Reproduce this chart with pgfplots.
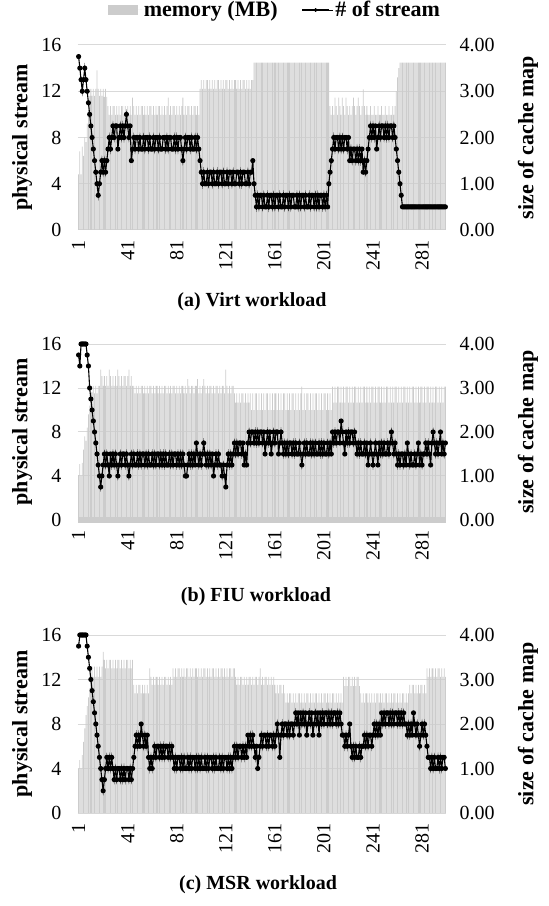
\documentclass[border=0pt]{standalone}
\usepackage{fontspec}
\setmainfont{Liberation Serif}
\usepackage{pgfplots}
\usepackage{pgfplotstable}
\pgfplotsset{compat=1.18}
\definecolor{barfill}{RGB}{204,204,204}
\definecolor{gridgray}{RGB}{217,217,217}

% columns: m = memory (MB, right axis), s = # of stream (left axis); row k is sample k+1
\pgfplotstableread[row sep=\\]{m s\\
1.20 15\\1.70 14\\1.20 13\\1.80 12\\1.60 13\\2.00 14\\1.90 13\\2.30 12\\2.60 11\\2.90 10\\
3.05 9\\2.90 8\\3.05 7\\2.90 6\\3.05 5\\3.45 4\\3.05 3\\2.90 4\\3.05 5\\2.90 6\\
3.05 5\\2.88 6\\3.05 5\\2.88 6\\2.68 7\\2.49 8\\2.68 7\\2.49 8\\2.68 9\\2.68 8\\
2.49 9\\2.68 9\\2.49 7\\2.68 8\\2.49 9\\2.68 8\\2.68 9\\2.49 8\\2.68 9\\2.49 10\\
2.68 9\\2.49 8\\2.68 9\\2.49 6\\2.86 7\\2.68 8\\2.49 7\\2.68 8\\2.49 8\\2.68 7\\
2.49 8\\2.68 7\\2.68 7\\2.49 8\\2.68 7\\2.49 8\\2.68 8\\2.49 7\\2.68 8\\2.68 7\\
2.49 7\\2.68 8\\2.49 7\\2.68 8\\2.49 8\\2.68 7\\2.68 8\\2.49 7\\2.68 7\\2.49 8\\
2.68 8\\2.49 7\\2.68 8\\2.86 7\\2.49 8\\2.68 8\\2.49 7\\2.68 7\\2.68 8\\2.49 7\\
2.68 8\\2.49 7\\2.68 8\\2.49 8\\2.68 7\\2.86 6\\2.49 7\\2.68 8\\2.49 7\\2.68 8\\
2.68 8\\2.49 7\\2.68 8\\2.49 7\\2.68 7\\2.68 8\\2.49 7\\2.68 8\\2.49 7\\3.05 6\\
3.24 5\\3.05 4\\3.24 5\\3.05 4\\3.24 4\\3.24 5\\3.05 4\\3.24 5\\3.05 5\\3.24 4\\
3.05 5\\3.24 4\\3.05 4\\3.24 5\\3.24 4\\3.05 5\\3.24 5\\3.05 4\\3.24 5\\3.05 4\\
3.24 4\\3.24 5\\3.05 4\\3.24 5\\3.05 5\\3.24 4\\3.05 5\\3.24 4\\3.24 4\\3.05 5\\
3.24 5\\3.05 4\\3.24 5\\3.05 4\\3.24 5\\3.24 5\\3.05 4\\3.24 4\\3.05 5\\3.24 4\\
3.05 5\\3.24 5\\3.24 6\\3.62 4\\3.62 3\\3.62 2\\3.62 3\\3.62 2\\3.62 3\\3.62 3\\
3.62 2\\3.62 3\\3.62 2\\3.62 2\\3.62 3\\3.62 2\\3.62 3\\3.62 3\\3.62 2\\3.62 3\\
3.62 2\\3.62 3\\3.62 3\\3.62 2\\3.62 3\\3.62 2\\3.62 2\\3.62 3\\3.62 2\\3.62 3\\
3.62 3\\3.62 2\\3.62 3\\3.62 2\\3.62 3\\3.62 3\\3.62 2\\3.62 2\\3.62 3\\3.62 2\\
3.62 3\\3.62 2\\3.62 3\\3.62 3\\3.62 2\\3.62 3\\3.62 2\\3.62 2\\3.62 3\\3.62 2\\
3.62 3\\3.62 3\\3.62 2\\3.62 3\\3.62 2\\3.62 3\\3.62 2\\3.62 3\\3.62 3\\3.62 2\\
3.62 3\\3.62 2\\3.62 3\\3.62 2\\3.62 4\\2.68 5\\2.49 6\\2.68 7\\2.49 8\\2.86 7\\
2.68 8\\2.49 8\\2.86 7\\2.68 8\\2.49 7\\2.86 8\\2.68 7\\2.49 8\\2.86 8\\2.68 7\\
2.49 8\\2.68 6\\2.49 7\\2.68 6\\2.86 7\\2.68 7\\2.49 6\\2.68 7\\2.86 6\\2.68 7\\
2.49 6\\2.68 7\\3.04 5\\2.68 6\\2.49 5\\2.68 6\\2.49 7\\2.49 8\\2.68 9\\2.49 8\\
2.49 9\\2.68 8\\2.49 9\\2.49 7\\2.68 8\\2.49 9\\2.49 8\\2.68 9\\2.49 9\\2.49 8\\
2.68 9\\2.49 8\\2.49 9\\2.68 8\\2.49 9\\2.49 9\\2.68 8\\2.49 9\\2.68 8\\3.00 7\\
3.30 6\\3.50 5\\3.62 4\\3.62 3\\3.62 2\\3.62 2\\3.62 2\\3.62 2\\3.62 2\\3.62 2\\
3.62 2\\3.62 2\\3.62 2\\3.62 2\\3.62 2\\3.62 2\\3.62 2\\3.62 2\\3.62 2\\3.62 2\\
3.62 2\\3.62 2\\3.62 2\\3.62 2\\3.62 2\\3.62 2\\3.62 2\\3.62 2\\3.62 2\\3.62 2\\
3.62 2\\3.62 2\\3.62 2\\3.62 2\\3.62 2\\3.62 2\\3.62 2\\3.62 2\\3.62 2\\3.62 2\\
}\virt

\pgfplotstableread[row sep=\\]{m s\\
1.02 15\\1.27 14\\1.00 16\\1.30 16\\1.60 16\\1.90 16\\1.80 16\\2.10 15\\2.40 14\\2.60 12\\
2.90 11\\2.90 10\\3.05 9\\2.88 8\\3.05 7\\2.88 6\\3.05 5\\3.05 4\\3.42 3\\3.27 4\\
3.05 5\\3.27 6\\3.05 5\\3.27 6\\3.05 5\\3.42 4\\3.27 6\\3.05 5\\3.27 6\\3.05 5\\
3.27 6\\3.05 5\\3.42 4\\3.27 5\\3.05 6\\3.27 5\\3.05 6\\3.27 6\\3.27 5\\3.05 6\\
3.27 5\\3.42 4\\3.05 5\\3.27 6\\3.05 5\\3.05 6\\2.88 5\\3.05 5\\2.88 6\\3.05 5\\
2.88 6\\3.05 5\\3.05 6\\2.88 6\\3.05 5\\2.88 6\\3.05 5\\2.88 6\\3.05 5\\3.05 5\\
2.88 6\\3.05 5\\2.88 6\\3.05 5\\3.05 6\\2.88 6\\3.05 5\\2.88 6\\3.05 5\\2.88 6\\
3.05 5\\3.05 6\\2.88 5\\3.05 5\\2.88 6\\3.05 5\\2.88 6\\3.05 5\\3.05 6\\2.88 6\\
3.05 5\\2.88 6\\3.05 5\\2.88 6\\3.05 5\\3.05 6\\2.88 5\\3.05 4\\2.88 4\\3.20 5\\
3.05 6\\2.88 5\\3.05 6\\3.05 5\\2.88 6\\3.05 5\\3.05 7\\3.20 6\\2.88 5\\3.05 6\\
2.88 5\\3.05 6\\3.20 7\\3.05 6\\2.88 5\\3.05 6\\2.88 5\\3.05 6\\3.05 5\\2.88 6\\
3.05 4\\2.88 5\\3.05 6\\3.05 5\\2.88 6\\3.05 5\\2.88 5\\3.05 4\\3.05 5\\2.88 4\\
3.42 3\\3.05 5\\2.88 6\\3.05 5\\2.88 6\\3.05 5\\3.05 6\\2.88 7\\2.67 6\\2.88 7\\
2.67 6\\2.88 7\\2.67 7\\2.88 6\\2.88 7\\2.67 5\\2.88 6\\2.67 5\\2.88 7\\2.67 8\\
2.88 7\\2.50 8\\2.88 8\\2.50 7\\2.88 8\\2.88 7\\2.50 8\\2.88 7\\2.50 8\\2.88 8\\
2.50 7\\2.88 8\\2.50 6\\2.88 7\\2.88 8\\2.50 7\\2.88 8\\2.50 6\\2.88 7\\2.50 8\\
2.88 7\\2.88 8\\2.50 8\\2.88 6\\2.50 7\\2.88 8\\2.50 7\\2.88 6\\2.88 7\\2.50 6\\
2.88 7\\2.50 6\\2.88 7\\2.50 7\\2.88 6\\2.88 7\\2.50 6\\2.88 7\\2.50 6\\2.88 6\\
2.50 7\\2.88 6\\3.03 5\\2.50 6\\2.88 7\\2.50 6\\2.88 7\\2.88 6\\2.50 6\\2.88 7\\
2.50 6\\2.88 7\\2.50 6\\2.88 7\\2.88 6\\2.50 6\\2.88 7\\2.50 6\\2.88 7\\2.50 6\\
2.88 7\\2.88 6\\2.50 6\\2.88 7\\2.50 6\\2.88 7\\2.50 6\\3.03 8\\2.67 7\\3.03 8\\
2.67 7\\3.03 8\\3.03 8\\2.67 7\\3.03 9\\2.67 8\\3.03 7\\2.67 6\\3.03 8\\3.03 7\\
2.67 8\\3.03 7\\2.67 8\\3.03 8\\2.67 7\\3.03 8\\3.03 7\\2.67 6\\3.03 7\\2.67 6\\
3.03 7\\2.67 6\\3.03 6\\3.03 7\\2.67 6\\3.03 7\\2.67 5\\3.03 6\\2.67 7\\3.03 6\\
3.03 5\\2.67 6\\3.03 7\\2.67 6\\3.03 5\\3.03 7\\2.67 6\\3.03 7\\2.67 6\\3.03 7\\
2.67 6\\3.03 6\\3.03 7\\2.67 6\\3.03 7\\2.67 8\\3.03 7\\2.67 6\\3.03 7\\3.03 6\\
2.67 5\\3.03 6\\2.67 5\\3.03 6\\2.67 6\\3.03 5\\3.03 6\\2.67 5\\3.03 7\\2.67 6\\
3.03 5\\2.67 6\\3.03 5\\3.03 5\\2.67 6\\3.03 5\\2.67 6\\3.03 7\\2.67 5\\3.03 6\\
3.03 5\\2.67 6\\3.03 6\\2.67 7\\3.03 6\\3.03 7\\2.67 6\\3.03 5\\2.67 7\\3.03 8\\
2.67 7\\3.03 6\\3.03 7\\2.67 6\\3.03 7\\2.67 8\\3.03 6\\2.67 7\\3.03 6\\3.03 7\\
}\fiu

\pgfplotstableread[row sep=\\]{m s\\
1.00 15\\1.19 16\\1.00 16\\1.30 16\\1.60 16\\1.90 16\\2.20 16\\2.40 15\\2.60 14\\2.80 13\\
3.06 12\\3.29 11\\3.06 10\\3.29 9\\3.06 8\\3.29 7\\3.06 6\\3.29 5\\3.06 4\\3.29 3\\
3.62 2\\3.44 3\\3.25 4\\3.44 5\\3.25 4\\3.44 5\\3.44 4\\3.25 5\\3.44 4\\3.25 3\\
3.44 4\\3.25 3\\3.44 4\\3.44 4\\3.25 3\\3.44 4\\3.25 3\\3.44 4\\3.25 3\\3.44 4\\
3.44 4\\3.25 3\\3.44 4\\3.25 3\\3.44 4\\2.88 5\\2.69 6\\2.88 7\\2.69 6\\2.88 7\\
2.88 6\\2.69 8\\2.88 7\\2.69 6\\2.88 7\\2.69 6\\2.88 7\\2.69 5\\3.25 4\\3.06 5\\
2.88 4\\3.06 5\\2.88 6\\3.06 5\\3.06 6\\2.88 6\\3.06 5\\2.88 6\\3.06 5\\2.88 6\\
3.06 5\\3.06 6\\2.88 6\\3.06 5\\2.88 6\\3.06 5\\2.88 6\\3.25 5\\3.06 4\\3.25 5\\
3.06 4\\3.25 5\\3.25 5\\3.06 4\\3.25 5\\3.06 4\\3.25 5\\3.06 4\\3.25 4\\3.25 5\\
3.06 4\\3.25 5\\3.06 4\\3.25 5\\3.06 5\\3.25 4\\3.25 5\\3.06 4\\3.25 5\\3.06 4\\
3.25 5\\3.06 4\\3.25 4\\3.25 5\\3.06 4\\3.25 5\\3.06 4\\3.25 5\\3.06 5\\3.25 4\\
3.25 5\\3.06 4\\3.25 5\\3.06 4\\3.25 4\\3.06 5\\3.25 4\\3.25 5\\3.06 4\\3.25 5\\
3.06 5\\3.25 4\\3.06 5\\3.25 4\\3.25 5\\3.06 4\\3.25 5\\3.25 6\\3.06 5\\2.88 6\\
3.06 5\\2.88 6\\3.06 6\\3.06 5\\2.88 6\\3.06 5\\2.88 6\\3.06 5\\2.88 7\\3.06 6\\
3.06 7\\2.88 6\\3.06 7\\2.88 6\\3.06 5\\3.06 6\\2.88 4\\3.06 5\\3.25 6\\2.88 7\\
3.06 6\\2.88 7\\3.06 7\\3.06 6\\2.88 7\\3.06 6\\2.88 7\\3.06 7\\2.88 6\\3.06 7\\
2.88 6\\2.69 7\\2.88 8\\2.69 7\\2.88 5\\2.88 7\\2.69 8\\2.88 7\\2.69 8\\2.48 8\\
2.69 7\\2.48 8\\2.69 7\\2.69 8\\2.48 8\\2.69 7\\2.48 8\\2.69 9\\2.48 8\\2.69 9\\
2.69 7\\2.48 9\\2.69 8\\2.48 9\\2.69 8\\2.48 9\\2.69 7\\2.69 8\\2.48 9\\2.69 8\\
2.48 9\\2.69 7\\2.48 8\\2.69 9\\2.69 8\\2.48 9\\2.69 7\\2.48 9\\2.69 8\\2.48 9\\
2.69 8\\2.69 9\\2.48 9\\2.69 8\\2.48 9\\2.69 8\\2.48 9\\2.69 8\\2.69 9\\2.48 9\\
2.69 8\\2.48 9\\2.69 8\\2.48 9\\2.69 8\\2.48 7\\3.06 7\\2.85 6\\3.06 7\\2.85 6\\
3.06 7\\3.06 8\\2.85 6\\3.06 5\\2.85 6\\3.06 5\\2.85 6\\3.06 5\\3.06 5\\2.85 6\\
2.69 5\\2.48 6\\2.69 6\\2.48 7\\2.69 6\\2.69 7\\2.48 6\\2.69 7\\2.48 7\\2.69 6\\
2.48 7\\2.69 8\\2.48 7\\2.69 8\\2.69 7\\2.48 8\\2.69 7\\2.48 9\\2.69 8\\2.48 9\\
2.69 8\\2.69 9\\2.48 9\\2.69 8\\2.48 9\\2.69 8\\2.48 9\\2.69 8\\2.69 9\\2.48 9\\
2.69 8\\2.48 9\\2.69 8\\2.48 9\\2.69 8\\2.69 9\\2.48 8\\2.69 8\\2.48 7\\2.69 8\\
2.88 7\\2.69 8\\2.88 7\\2.88 9\\2.69 8\\2.88 7\\2.69 8\\2.88 7\\2.69 6\\2.88 7\\
2.88 8\\2.69 7\\2.88 8\\2.69 7\\3.25 6\\3.06 5\\3.25 5\\3.06 4\\3.25 5\\3.25 4\\
3.06 5\\3.25 4\\3.06 4\\3.25 5\\3.25 4\\3.06 5\\3.25 4\\3.06 5\\3.25 5\\3.06 4\\
}\msr

\pgfplotsset{
  panel/.style={
    scale only axis, width=368pt, anchor=south west,
    xmin=0.5, xmax=300.5,
    /pgf/number format/assume math mode=true,
    tick style={draw=none}, axis line style={draw=none},
    tick label style={font=\fontsize{20}{24}\selectfont},
    label style={font=\bfseries\fontsize{22}{26}\selectfont},
  },
  memax/.style={
    panel, ymin=0, ymax=4, ytick={0,1,2,3,4},
    axis x line*=bottom, axis y line*=right,
    ymajorgrids, major grid style={gridgray, line width=1pt},
    yticklabel style={/pgf/number format/fixed, /pgf/number format/fixed zerofill,
      /pgf/number format/precision=2},
    yticklabel shift=10pt,
    xtick={1,41,...,281},
    xticklabel style={rotate=90, anchor=east},
    xticklabel shift=7pt,
    ylabel={size of cache map},
    ylabel style={at={(axis description cs:1.223,0.5)}, anchor=center},
  },
  strax/.style={
    panel, ymin=0, ymax=16, ytick={0,4,8,12,16},
    axis x line=none, axis y line*=left, clip=false,
    yticklabel shift=13pt,
    ylabel={physical stream},
    ylabel style={at={(axis description cs:-0.152,0.5)}, anchor=center},
  },
  membars/.style={ybar, bar width=0.62, fill=barfill, draw=none},
  streamline/.style={black, line width=1.1pt, mark=*, mark size=2pt,
    mark options={solid, fill=black}},
}

\begin{document}
\begin{tikzpicture}
\useasboundingbox (0pt,0pt) rectangle (549pt,906pt);

% (a) Virt
\begin{axis}[memax, at={(78pt,676pt)}, height=185pt,
  legend columns=2,
  legend style={at={(axis description cs:0.535,1)}, anchor=center, yshift=35pt,
    draw=none, fill=none, font=\bfseries\fontsize{22}{26}\selectfont,
    /tikz/every even column/.append style={column sep=22pt}}]
\addplot[membars, legend image code/.code={\fill[barfill] (0pt,-5pt) rectangle (30pt,5pt);
  \path (0pt,0pt) -- (34pt,0pt);}]
  table[x expr=\coordindex+1, y=m] {\virt};
\addlegendentry{memory (MB)}
\addlegendimage{legend image code/.code={\draw[black, line width=1pt] (0pt,0pt) -- (27pt,0pt);
  \fill[black] (13.5pt,0pt) circle (1.7pt); \path (0pt,0pt) -- (31pt,0pt);}}
\addlegendentry{\# of stream}
\end{axis}
\begin{axis}[strax, at={(78pt,676pt)}, height=185pt]
\addplot[streamline] table[x expr=\coordindex+1, y=s] {\virt};
\end{axis}

% (b) FIU
\begin{axis}[memax, at={(78pt,386pt)}, height=176pt,
  x axis line style={draw=black!20, line width=6pt}]
\addplot[membars] table[x expr=\coordindex+1, y=m] {\fiu};
\end{axis}
\begin{axis}[strax, at={(78pt,386pt)}, height=176pt]
\addplot[streamline] table[x expr=\coordindex+1, y=s] {\fiu};
\end{axis}

% (c) MSR
\begin{axis}[memax, at={(78pt,93pt)}, height=178pt]
\addplot[membars] table[x expr=\coordindex+1, y=m] {\msr};
\end{axis}
\begin{axis}[strax, at={(78pt,93pt)}, height=178pt]
\addplot[streamline] table[x expr=\coordindex+1, y=s] {\msr};
\end{axis}

\begin{scope}[every node/.style={font=\bfseries\fontsize{20}{24}\selectfont}]
\node at (252pt,604pt) {(a) Virt workload};
\node at (256pt,309pt) {(b) FIU workload};
\node at (258pt,21pt) {(c) MSR workload};
\end{scope}
\end{tikzpicture}
\end{document}
